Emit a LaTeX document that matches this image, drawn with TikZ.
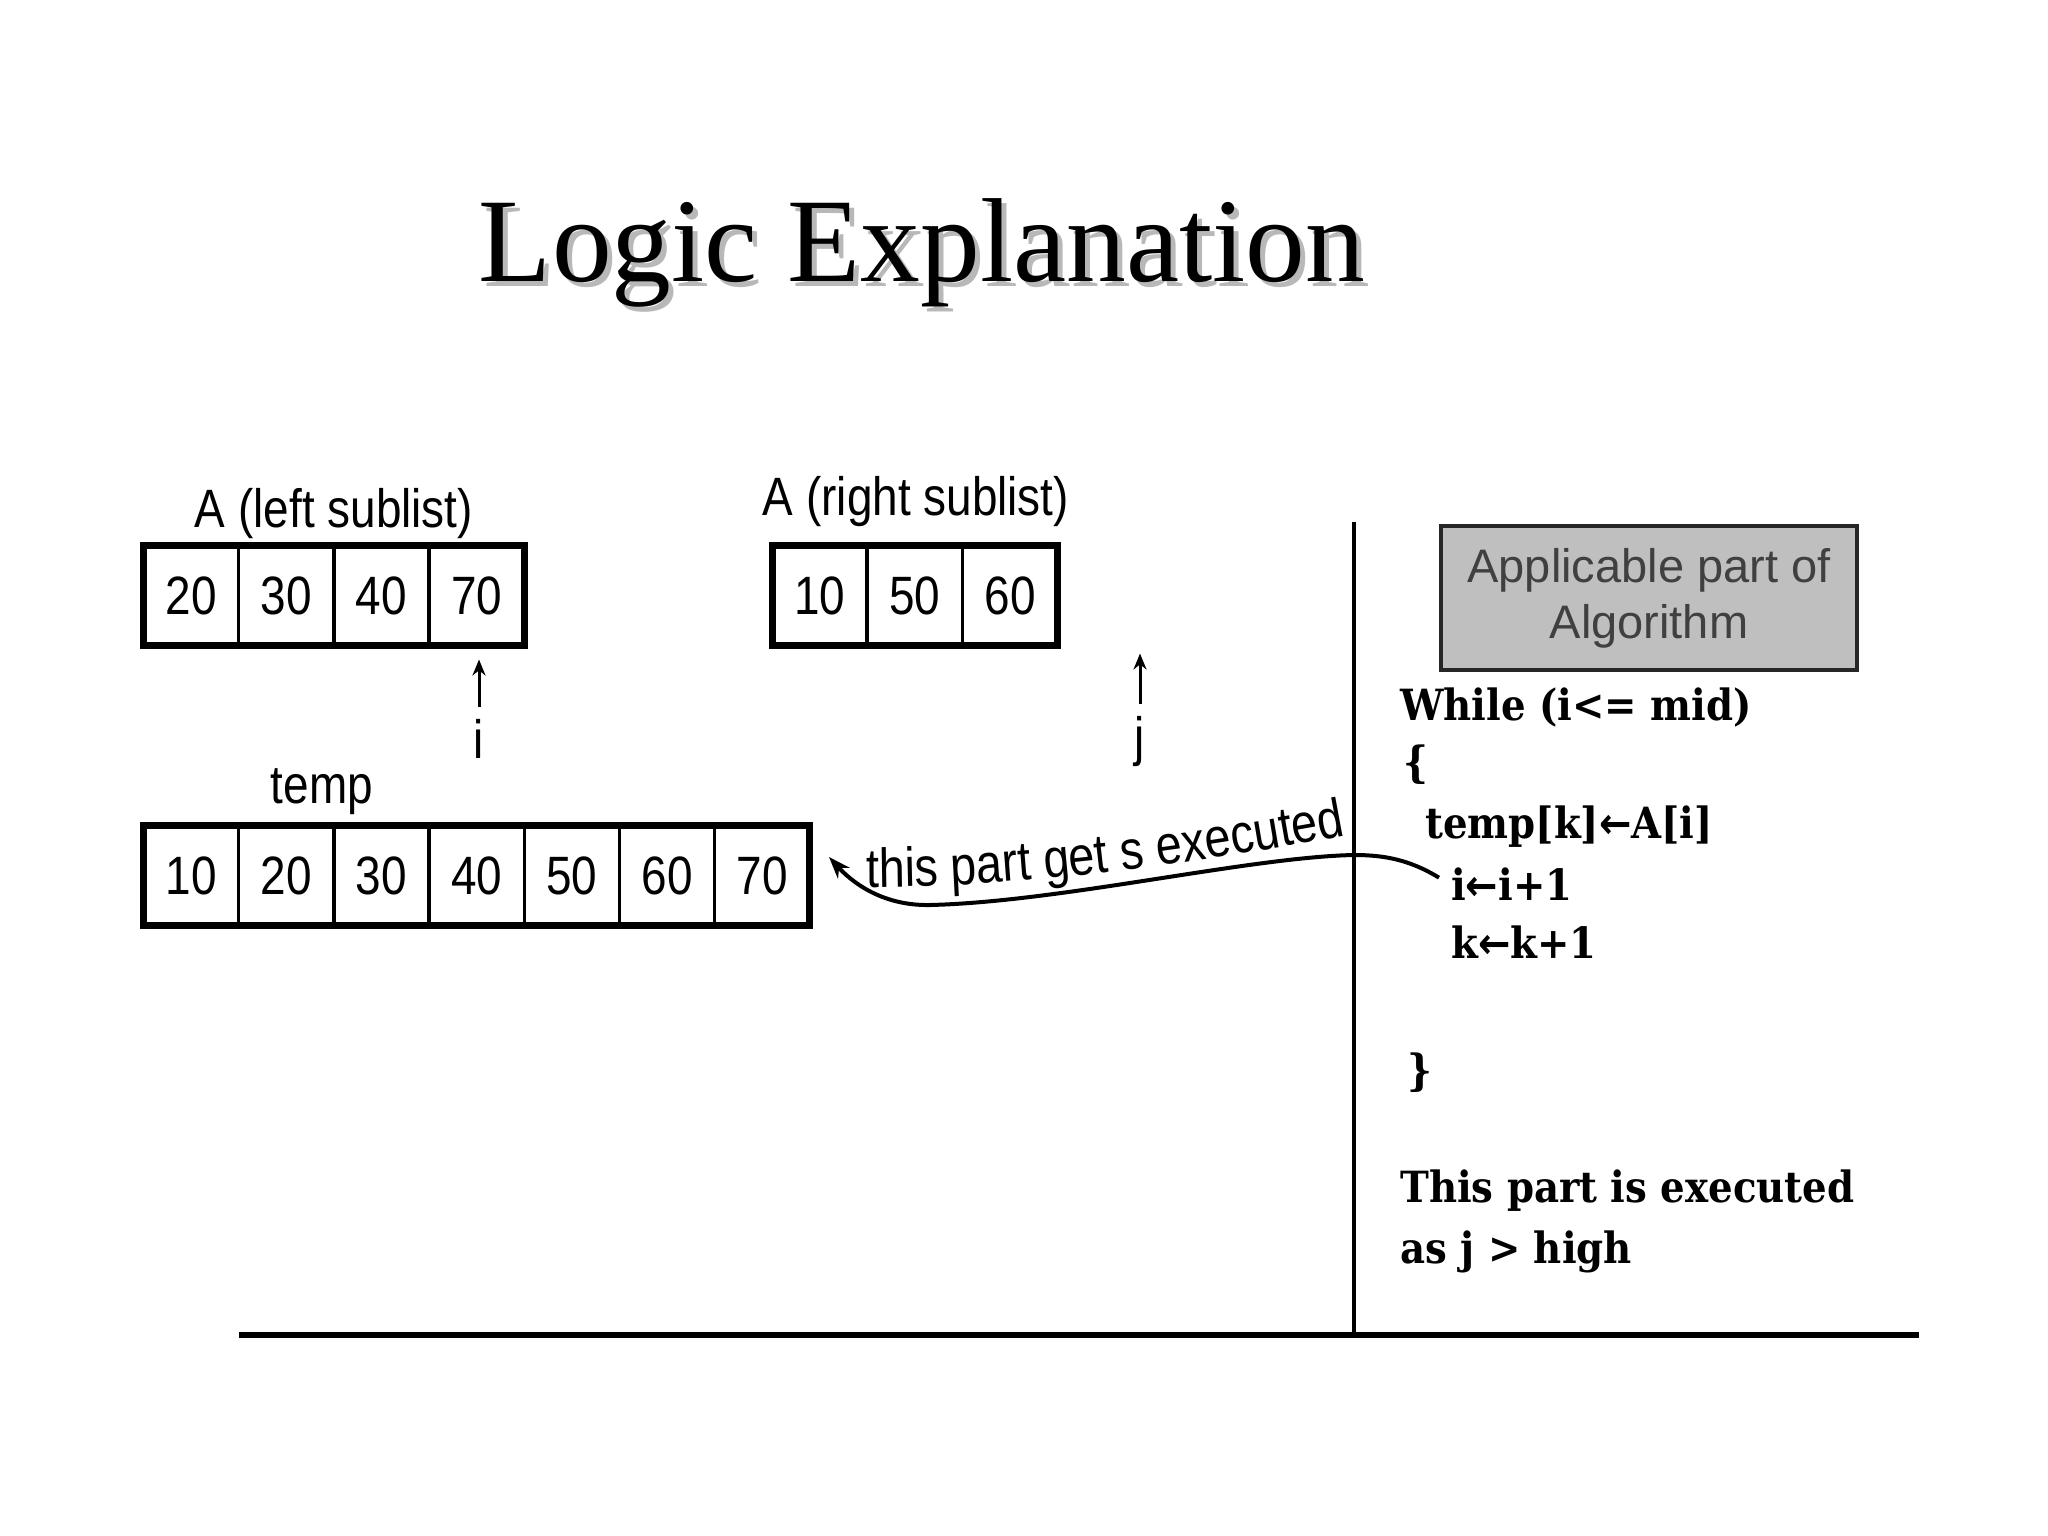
\documentclass[tikz,border=0pt]{standalone}
\usepackage{fontspec}
\setmainfont{Liberation Serif}
\newfontfamily\condsans[FakeStretch=0.85]{Liberation Sans}
\newfontfamily\plainsans{Liberation Sans}
\newfontfamily\codeserif[FakeStretch=0.9]{DejaVu Serif}
\newfontfamily\arrowsans[FakeStretch=0.9]{DejaVu Sans}
\usetikzlibrary{arrows.meta,decorations.text}
\begin{document}
\begin{tikzpicture}[x=1pt,y=-1pt,
  cell/.style={draw, line width=3.5pt, minimum width=95.2pt, minimum height=100pt, inner sep=0pt, outer sep=0pt, font=\condsans\fontsize{54}{60}\selectfont},
  lbl/.style={inner sep=0pt, anchor=base, font=\condsans\fontsize{54}{60}\selectfont},
  code/.style={inner sep=0pt, anchor=base west, font=\codeserif\bfseries\fontsize{43}{50}\selectfont},
  ptr/.style={line width=3pt, -{Stealth[length=16pt,width=13pt]}},
  frame/.style={line width=7pt},
  titlefont/.style={inner sep=0pt, anchor=base, font=\fontsize{119.5}{140}\selectfont},
]
\fill[white] (0,0) rectangle (2048,1536);
\useasboundingbox (0,0) rectangle (2048,1536);

% title
\node[titlefont, text=black!28] (titleshadow) at (927,286) {Logic Explanation};
\node[titlefont] (title) at (922,281) {Logic Explanation};

% left sublist
\node[lbl] (leftlab) at (334,527) {A (left sublist)};
\node[cell] (L1) at (191.1,595.5) {20};
\node[cell] (L2) at (286.3,595.5) {30};
\node[cell] (L3) at (381.5,595.5) {40};
\node[cell] (L4) at (476.7,595.5) {70};
\draw[frame] (L1.north west) rectangle (L4.south east);

% right sublist
\node[lbl] (rightlab) at (916,515) {A (right sublist)};
\node[cell] (R1) at (819.6,595.5) {10};
\node[cell] (R2) at (914.8,595.5) {50};
\node[cell] (R3) at (1010,595.5) {60};
\draw[frame] (R1.north west) rectangle (R3.south east);

% pointers
\node[lbl] (ilab) at (479,758) {i};
\draw[ptr] ([yshift=12pt]ilab.north) -- ([yshift=-14pt]ilab.north |- L4.south);
\node[lbl] (jlab) at (1140,755) {j};
\draw[ptr] ([yshift=12pt]jlab.north) -- ([yshift=-8pt]jlab.north |- R3.south);

% temp
\node[lbl] (templab) at (322,803) {temp};
\node[cell] (T1) at (191.1,875.7) {10};
\node[cell] (T2) at (286.3,875.7) {20};
\node[cell] (T3) at (381.5,875.7) {30};
\node[cell] (T4) at (476.7,875.7) {40};
\node[cell] (T5) at (571.9,875.7) {50};
\node[cell] (T6) at (667.1,875.7) {60};
\node[cell] (T7) at (762.3,875.7) {70};
\draw[frame] (T1.north west) rectangle (T7.south east);

% frame lines
\coordinate (vtop) at (1354,522);
\coordinate (vbot) at (1354,1335);
\coordinate (hl) at (239,1335);
\coordinate (hr) at (1919,1335);
\draw[line width=4pt] (vtop) -- (vbot);
\draw[line width=6pt] (hl) -- (hr);

% header box
\node[draw=black!85, line width=4pt, fill=black!25, minimum width=416pt, minimum height=144pt, inner sep=0pt, align=center, text=black!75, font=\plainsans\fontsize{47}{56}\selectfont] (hdr) at (1649,598) {Applicable part of\\Algorithm};

% code
\node[code] (c1) at (1400,720) {While (i<= mid)};
\node[code] (c2) at (1403,777) {\{};
\node[code] (c3) at (1425,838) {temp[k]{\arrowsans ←}A[i]};
\node[code] (c4) at (1451,900) {i{\arrowsans ←}i+1};
\node[code] (c5) at (1451,958) {k{\arrowsans ←}k+1};
\node[code] (c6) at (1407,1085) {\}};
\node[code] (c7) at (1400,1202) {This part is executed};
\node[code] (c8) at (1400,1263) {as j > high};

% curved connector
\coordinate (tip) at (829,857);
\draw[line width=4pt, -{Stealth[length=22pt,width=16pt]}] ([xshift=-12pt,yshift=6pt]c4.west) .. controls (1410,860) and (1385,855) .. (1354,855) .. controls (1250,857) and (1060,902) .. (930,905) .. controls (880,906) and (850,880) .. (tip);
\path[decorate, decoration={text along path, text={|\condsans\fontsize{55}{62}\selectfont|this part get s executed}, text align=left}] (866,887) .. controls (1000,887) and (1150,872) .. (1342,836);
\end{tikzpicture}
\end{document}
